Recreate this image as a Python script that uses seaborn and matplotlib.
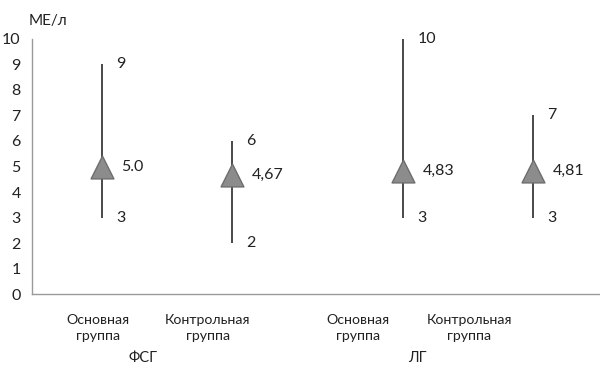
import numpy as np
import pandas as pd
import matplotlib
matplotlib.use("Agg")
import matplotlib.pyplot as plt
import seaborn as sns

sns.set_style("white")
plt.rcParams['font.family'] = ['Lato', 'DejaVu Sans']

# data
groups = ["Основная\nгруппа", "Контрольная\nгруппа", "Основная\nгруппа", "Контрольная\nгруппа"]
hormones = ["ФСГ", "ФСГ", "ЛГ", "ЛГ"]
min_vals = [3, 2, 3, 3]
max_vals = [9, 6, 10, 7]
means = [5.0, 4.67, 4.83, 4.81]
mean_labels = ["5.0", "4,67", "4,83", "4,81"]

# layout
xpos = [1, 2, 3.315, 4.315]
label_pos = [0.969, 1.815, 2.969, 3.823]
hormone_pos = {"ФСГ": 1.315, "ЛГ": 3.423}

df = pd.DataFrame({"x": xpos, "mean": means, "lo": min_vals, "hi": max_vals})

fig = plt.figure(figsize=(6, 3.78), dpi=100)
ax = fig.add_axes([0.053, 0.222, 0.947, 0.675])

ax.vlines(df["x"], df["lo"], df["hi"], color="#3a3a3a", lw=1.3, zorder=1)
sns.scatterplot(data=df, x="x", y="mean", marker="^", s=270, color="#8c8c8c",
                edgecolor="#6e6e6e", linewidth=1.0, ax=ax, zorder=3, legend=False)

for x, lo, hi, m, ml in zip(xpos, min_vals, max_vals, means, mean_labels):
    ax.text(x + 0.11, hi, str(hi), ha="left", va="center", fontsize=11.5, color="#222")
    ax.text(x + 0.11, lo, str(lo), ha="left", va="center", fontsize=11.5, color="#222")
    ax.text(x + 0.15, m, ml, ha="left", va="center", fontsize=11.5, color="#222")

ax.set_xlim(0.462, 4.83)
ax.set_ylim(0, 10)
ax.set_yticks(range(0, 11))
ax.set_yticklabels([str(v) for v in range(0, 11)], fontsize=11.5, color="#222")
ax.set_xticks(label_pos)
ax.set_xticklabels(groups, fontsize=10.2, color="#222", linespacing=1.45)
ax.tick_params(axis="both", length=0)
ax.tick_params(axis="y", pad=8)
ax.tick_params(axis="x", pad=14)
ax.set_xlabel("")
ax.set_ylabel("")

for h, p in hormone_pos.items():
    ax.text(p, -0.25, h, transform=ax.get_xaxis_transform(), ha="center", va="center",
            fontsize=10.5, color="#222")

ax.text(-0.005, 1.07, "МЕ/л", transform=ax.transAxes, ha="left", va="center",
        fontsize=11, color="#222")

sns.despine(ax=ax, top=True, right=True)
for s in ["left", "bottom"]:
    ax.spines[s].set_color("#9a9a9a")
    ax.spines[s].set_linewidth(1.0)

fig.savefig("out.png", dpi=100)
